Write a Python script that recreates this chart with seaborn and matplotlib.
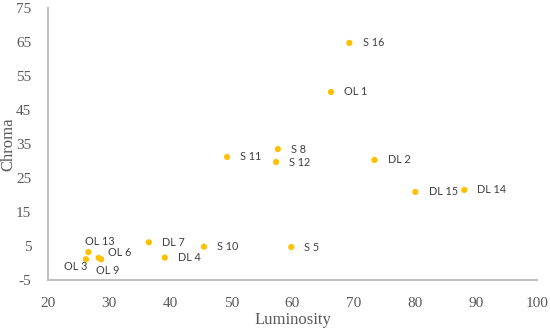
import matplotlib.pyplot as plt
import pandas as pd
import seaborn as sns

# Sample points
samples = ["S 16", "OL 1", "S 8", "S 12", "DL 2", "S 11", "DL 15", "DL 14",
           "S 5", "S 10", "DL 7", "DL 4", "OL 13", "OL 3", "OL 6", "OL 9"]
luminosity = [69.3, 66.3, 57.6, 57.3, 73.4, 49.3, 80.1, 88.1,
              59.8, 45.5, 36.5, 39.1, 26.6, 26.2, 28.3, 28.7]
chroma = [64.7, 50.3, 33.5, 29.7, 30.3, 31.2, 20.9, 21.5,
          4.7, 4.8, 6.1, 1.6, 3.2, 1.1, 1.5, 1.1]

x_ticks = [20, 30, 40, 50, 60, 70, 80, 90, 100]
y_ticks = [-5, 5, 15, 25, 35, 45, 55, 65, 75]

# label placement (offset in points, horizontal alignment)
label_pos = {
    "OL 13": ((8, 8), "center"),
    "OL 3": ((1, -5), "right"),
    "OL 6": ((7, 4), "left"),
    "OL 9": ((5, -8), "center"),
}

df = pd.DataFrame({"sample": samples, "luminosity": luminosity, "chroma": chroma})

sns.set_style("white")
plt.rcParams["axes.unicode_minus"] = False
fig = plt.figure(figsize=(5.5, 3.31), dpi=100)
ax = fig.add_axes([0.0873, 0.154, 0.889, 0.822])

sns.scatterplot(data=df, x="luminosity", y="chroma", color="#FFC000",
                s=20, edgecolor="none", ax=ax)

for _, row in df.iterrows():
    offset, ha = label_pos.get(row["sample"], ((9.5, 0), "left"))
    ax.annotate(row["sample"], (row["luminosity"], row["chroma"]),
                xytext=offset, textcoords="offset points", ha=ha, va="center",
                fontsize=7.8, color="#404040", family="Lato")

ax.set_xlim(20, 100)
ax.set_ylim(-5, 75)
ax.set_xticks(x_ticks)
ax.set_yticks(y_ticks)
ax.tick_params(length=0, labelsize=11, labelcolor="#595959")
ax.tick_params(axis="x", pad=12)
ax.tick_params(axis="y", pad=12)
for lbl in ax.get_xticklabels() + ax.get_yticklabels():
    lbl.set_family("Liberation Serif")

ax.set_xlabel("Luminosity", family="Liberation Serif", fontsize=12, color="#595959", labelpad=2)
ax.set_ylabel("Chroma", family="Liberation Serif", fontsize=12, color="#595959", labelpad=0)

for side in ["top", "right"]:
    ax.spines[side].set_visible(False)
for side in ["left", "bottom"]:
    ax.spines[side].set_color("#BFBFBF")
    ax.spines[side].set_linewidth(1.5)

fig.savefig("out.png", dpi=100)
plt.close(fig)
